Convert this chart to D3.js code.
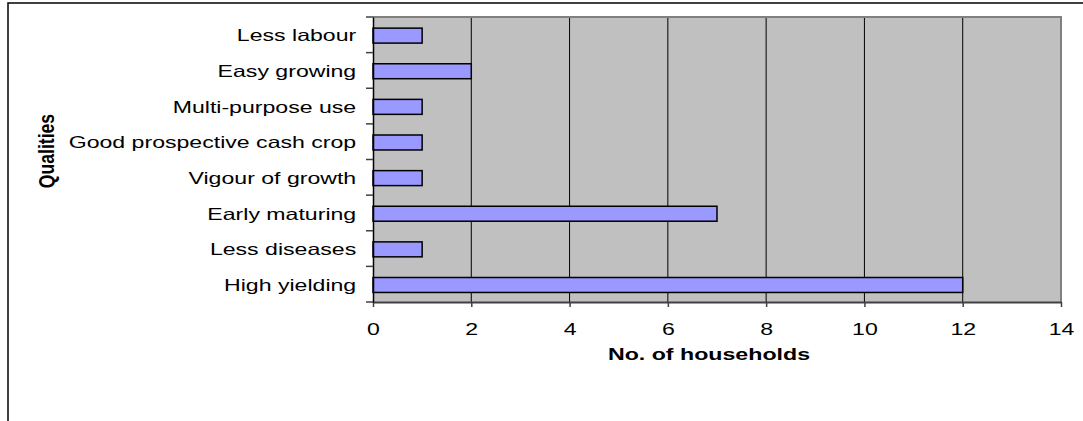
<!DOCTYPE html>
<html>
<head>
<meta charset="utf-8">
<script src="https://cdn.jsdelivr.net/npm/d3@7"></script>
<style>
  body { margin: 0; background: #fff; }
  svg { display: block; font-family: Arial, "Liberation Sans", sans-serif; }
</style>
</head>
<body>
<div id="chart"></div>
<script>
// categories, top to bottom
var qualities = [
  "Less labour",
  "Easy growing",
  "Multi-purpose use",
  "Good prospective cash crop",
  "Vigour of growth",
  "Early maturing",
  "Less diseases",
  "High yielding"
];
var households = [1, 2, 1, 1, 1, 7, 1, 12];
var xTicks = [0, 2, 4, 6, 8, 10, 12, 14];

var W = 1083, H = 421;
var stretch = 1.4; // text in the picture is wide

var svg = d3.select("#chart").append("svg")
  .attr("width", W)
  .attr("height", H);

// outer chart border
svg.append("rect")
  .attr("x", 8).attr("y", 3)
  .attr("width", W + 20).attr("height", H + 20)
  .attr("fill", "#fff")
  .attr("stroke", "#000")
  .attr("stroke-width", 1.5);

var plotL = 373, plotR = 1061, plotT = 17, plotB = 302;

var x = d3.scaleLinear().domain([0, 14]).range([plotL, plotR]);
var y = d3.scaleBand().domain(qualities).range([plotT, plotB]).padding(0);

// plot background
svg.append("rect")
  .attr("x", plotL).attr("y", plotT)
  .attr("width", plotR - plotL).attr("height", plotB - plotT)
  .attr("fill", "#c0c0c0");

// vertical gridlines
svg.append("g")
  .selectAll("line")
  .data(xTicks.filter(d => d > 0 && d < 14))
  .enter()
  .append("line")
  .attr("x1", d => x(d)).attr("x2", d => x(d))
  .attr("y1", plotT).attr("y2", plotB)
  .attr("stroke", "#000")
  .attr("stroke-width", 1);

// plot border top + right
svg.append("path")
  .attr("d", "M" + plotL + "," + plotT + "H" + plotR + "V" + plotB)
  .attr("fill", "none")
  .attr("stroke", "#808080")
  .attr("stroke-width", 2);

// bars
var barH = y.bandwidth() * 0.42;
svg.append("g")
  .selectAll("rect")
  .data(qualities)
  .enter()
  .append("rect")
  .attr("x", x(0))
  .attr("y", (d, i) => y(d) + (y.bandwidth() - barH) / 2 + 0.8)
  .attr("width", (d, i) => x(households[i]) - x(0))
  .attr("height", barH)
  .attr("fill", "#9999ff")
  .attr("stroke", "#000")
  .attr("stroke-width", 1.5);

// x axis
var xAxis = svg.append("g")
  .attr("transform", "translate(0," + plotB + ")")
  .call(d3.axisBottom(x).tickValues(xTicks).tickSize(5).tickSizeOuter(0).tickPadding(16));
xAxis.select(".domain").attr("stroke", "#404040").attr("stroke-width", 2);
xAxis.selectAll(".tick line").attr("stroke", "#404040").attr("stroke-width", 1.5);
xAxis.selectAll(".tick text")
  .attr("font-size", 16.5)
  .attr("fill", "#000")
  .attr("transform", "scale(" + stretch + ",1)");

// y axis: labels at band centres
var yAxis = svg.append("g")
  .attr("transform", "translate(" + plotL + ",0)")
  .call(d3.axisLeft(y).tickSize(0).tickPadding(12));
yAxis.select(".domain").attr("stroke", "#000").attr("stroke-width", 1.5);
yAxis.selectAll(".tick text")
  .attr("font-size", 16.5)
  .attr("fill", "#000")
  .attr("dy", "0.4em")
  .attr("transform", "scale(" + stretch + ",1)");

// y tick marks at band boundaries
var bounds = qualities.map(d => y(d)).concat([plotB]);
svg.append("g")
  .selectAll("line")
  .data(bounds)
  .enter()
  .append("line")
  .attr("x1", plotL - 7).attr("x2", plotL)
  .attr("y1", d => d).attr("y2", d => d)
  .attr("stroke", "#404040")
  .attr("stroke-width", 1.5);

// axis titles
svg.append("text")
  .attr("transform", "translate(709,354) scale(1.45,1)")
  .attr("text-anchor", "middle")
  .attr("dominant-baseline", "central")
  .attr("font-size", 16)
  .attr("font-weight", "bold")
  .text("No. of households");

svg.append("text")
  .attr("transform", "translate(46,151) rotate(-90) scale(1.1," + stretch + ")")
  .attr("text-anchor", "middle")
  .attr("dominant-baseline", "central")
  .attr("font-size", 16)
  .attr("font-weight", "bold")
  .text("Qualities");
</script>
</body>
</html>
